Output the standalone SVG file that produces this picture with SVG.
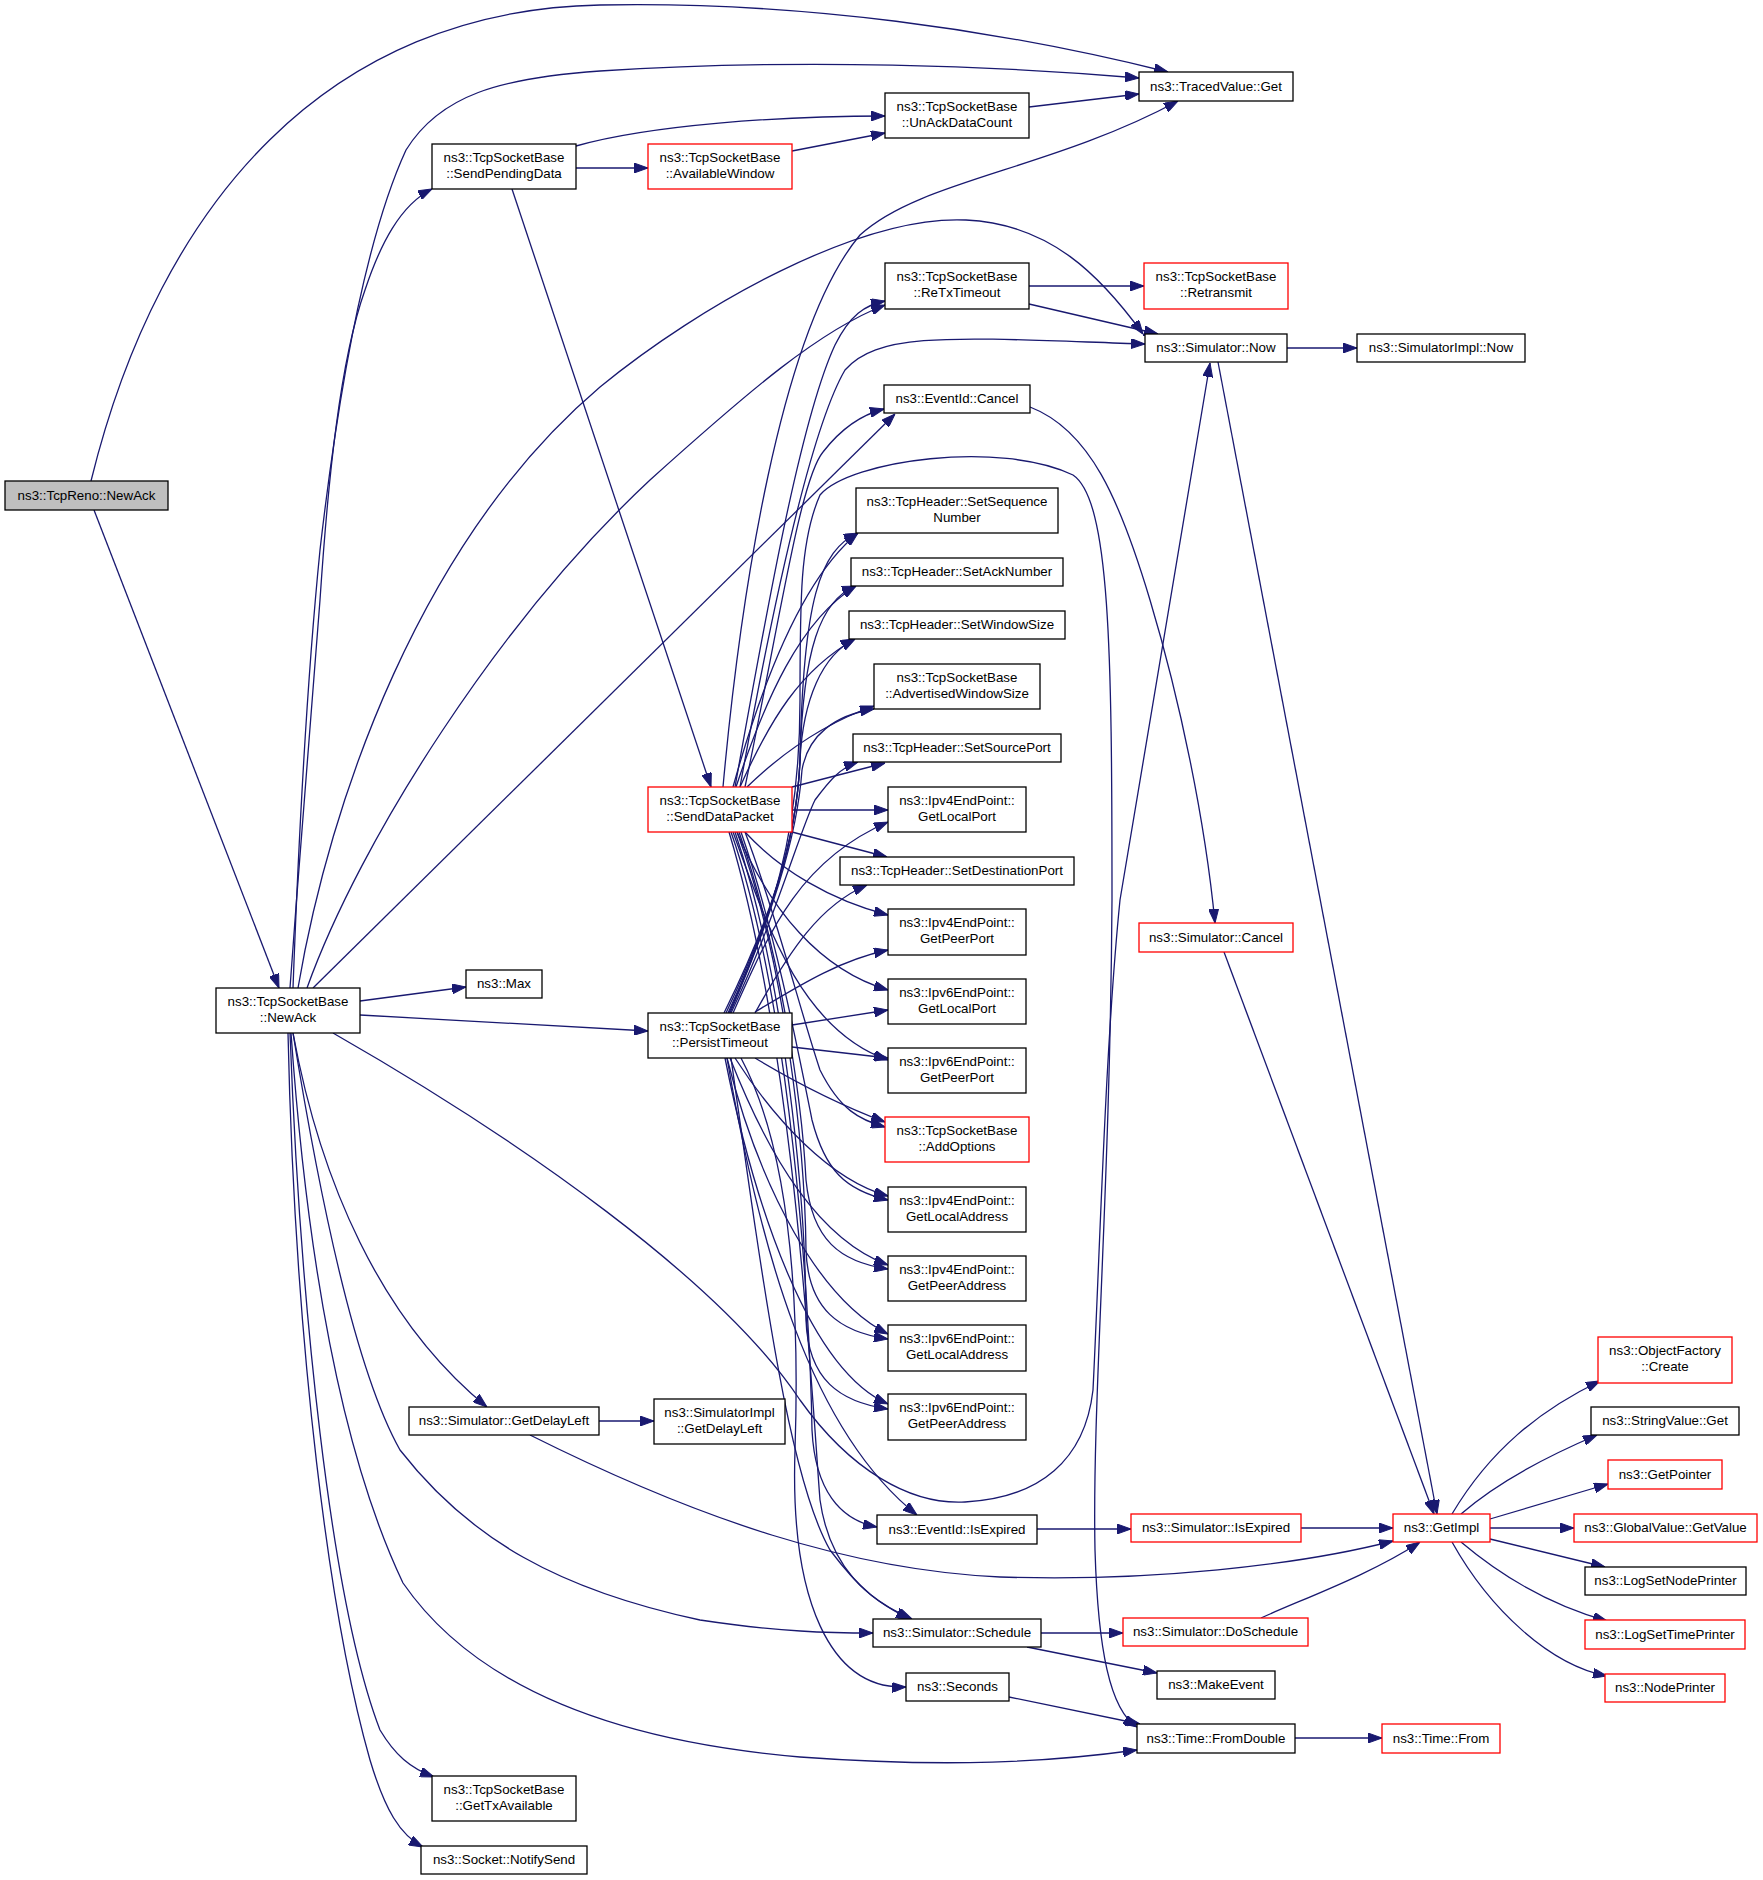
<svg xmlns="http://www.w3.org/2000/svg" width="1763" height="1880" viewBox="0 0 1763 1880">
<style>
.n rect{fill:#fff;stroke:#000;stroke-width:1.3}
.n.r rect{stroke:#f00}
.n.root rect{fill:#bfbfbf}
text{font-family:"Liberation Sans",Arial,Helvetica,sans-serif;font-size:13.33px;text-anchor:middle;fill:#000}
#edges path{fill:none;stroke:#191970;stroke-width:1.3;marker-end:url(#a)}
</style>
<defs>
<marker id="a" markerUnits="userSpaceOnUse" markerWidth="14" markerHeight="10" refX="14" refY="5" orient="auto" viewBox="0 0 14 10">
<path d="M0,0 L14,5 L0,10 z" fill="#191970" stroke="#191970" stroke-width="1"/>
</marker>
</defs>
<rect width="1763" height="1880" fill="#fff"/>
<g id="edges">
<path d="M91,481 C160,200 330,10 600,5 C800,1 1000,30 1168,72"/>
<path d="M94,510 L279,988"/>
<path d="M290,988 C300,850 312,700 320,600 C328,480 340,360 365,290 C380,245 400,205 432,189"/>
<path d="M293,988 C300,800 310,650 320,550 C335,420 360,250 406,150 C440,95 500,78 600,71 C800,58 1000,66 1139,78"/>
<path d="M576,146 C650,125 780,116 885,116"/>
<path d="M576,168 L648,168"/>
<path d="M792,151 L885,133"/>
<path d="M1029,107 L1139,94"/>
<path d="M512,189 L711,787"/>
<path d="M723,787 C740,600 780,330 860,235 C920,180 1050,170 1178,101"/>
<path d="M735,787 C765,620 800,420 835,345 C850,315 865,305 885,301"/>
<path d="M740,787 C770,620 810,430 845,370 C880,330 960,338 1145,344"/>
<path d="M745,787 C780,620 800,480 823,452 C840,430 860,415 884,409"/>
<path d="M1029,286 L1144,286"/>
<path d="M1029,304 L1158,334"/>
<path d="M1287,348 L1357,348"/>
<path d="M298,988 C330,800 420,540 600,387 C700,305 860,215 966,220 C1050,224 1100,275 1143,334"/>
<path d="M307,988 C360,840 500,620 650,480 C750,390 820,330 885,305"/>
<path d="M313,988 L895,414"/>
<path d="M360,1001 L466,987"/>
<path d="M360,1015 L648,1031"/>
<path d="M333,1033 C520,1140 720,1280 800,1400 C850,1470 910,1505 965,1502 C1040,1498 1085,1460 1093,1390 C1100,1250 1105,1050 1120,900 L1210,363"/>
<path d="M293,1033 C320,1180 380,1320 487,1407"/>
<path d="M293,1033 C320,1200 355,1370 400,1450 C470,1540 560,1590 700,1620 C780,1632 830,1633 873,1633"/>
<path d="M291,1033 C305,1230 335,1440 403,1583 C470,1680 600,1740 800,1757 C950,1768 1050,1762 1137,1750"/>
<path d="M290,1033 C300,1300 330,1600 380,1730 C395,1755 410,1768 434,1777"/>
<path d="M288,1033 C295,1350 330,1620 370,1760 C385,1810 400,1835 423,1847"/>
<path d="M599,1421 L654,1421"/>
<path d="M530,1435 C700,1520 850,1570 1000,1577 C1150,1582 1300,1565 1393,1541"/>
<path d="M733,787 C760,690 800,580 858,533"/>
<path d="M736,787 C765,700 800,620 856,586"/>
<path d="M740,787 C770,720 800,670 855,639"/>
<path d="M747,787 C780,755 820,725 874,706"/>
<path d="M792,787 L885,763"/>
<path d="M792,810 L888,810"/>
<path d="M792,832 L887,857"/>
<path d="M745,832 C780,870 830,900 888,915"/>
<path d="M737,832 C770,910 820,970 888,990"/>
<path d="M733,832 C765,920 800,1030 888,1060"/>
<path d="M745,832 C775,910 800,1010 820,1070 C840,1110 860,1120 885,1127"/>
<path d="M741,832 C775,930 800,1060 812,1120 C825,1170 845,1190 888,1200"/>
<path d="M739,832 C780,950 802,1100 806,1180 C812,1240 840,1262 888,1269"/>
<path d="M737,832 C785,960 805,1150 806,1250 C808,1310 840,1332 888,1339"/>
<path d="M735,832 C785,980 806,1200 806,1320 C808,1380 840,1402 888,1409"/>
<path d="M731,832 C790,1000 810,1300 812,1430 C815,1490 840,1520 877,1527"/>
<path d="M729,832 C795,1050 812,1400 820,1500 C830,1570 870,1600 910,1619"/>
<path d="M724,1013 C770,920 797,840 800,760 C803,600 820,550 858,533"/>
<path d="M726,1013 C770,920 797,840 800,760 C803,650 820,600 856,586"/>
<path d="M728,1013 C770,920 797,840 800,760 C803,700 822,655 855,639"/>
<path d="M730,1013 C770,920 797,840 802,770 C808,735 835,715 874,709"/>
<path d="M731,1013 C775,920 800,830 815,800 C830,780 840,768 858,762"/>
<path d="M733,1013 C770,930 800,860 888,822"/>
<path d="M755,1013 C790,950 820,905 867,885"/>
<path d="M755,1012 C800,985 840,960 888,950"/>
<path d="M792,1025 L888,1010"/>
<path d="M792,1047 L888,1058"/>
<path d="M755,1058 C800,1085 840,1105 885,1122"/>
<path d="M735,1058 C775,1120 830,1180 888,1196"/>
<path d="M730,1058 C770,1160 820,1240 888,1265"/>
<path d="M727,1058 C760,1190 820,1300 888,1334"/>
<path d="M725,1058 C755,1210 810,1370 888,1404"/>
<path d="M727,1058 C760,1250 810,1430 917,1515"/>
<path d="M731,1058 C765,1300 790,1480 830,1550 C860,1590 880,1605 912,1619"/>
<path d="M741,1058 C790,1150 800,1300 795,1450 C790,1600 830,1690 906,1687"/>
<path d="M729,1013 C770,920 800,840 800,700 C800,600 800,540 820,495 C850,460 1000,440 1073,475 C1110,500 1112,650 1112,900 C1110,1200 1092,1400 1095,1550 C1098,1650 1110,1710 1137,1727"/>
<path d="M1030,407 C1090,430 1120,500 1150,600 C1180,700 1205,820 1215,923"/>
<path d="M1224,952 L1434,1514"/>
<path d="M1218,362 L1437,1514"/>
<path d="M1037,1529 L1131,1529"/>
<path d="M1301,1528 L1393,1528"/>
<path d="M1041,1633 L1123,1633"/>
<path d="M1027,1647 L1157,1673"/>
<path d="M1261,1618 C1300,1600 1370,1575 1420,1542"/>
<path d="M1009,1697 L1140,1724"/>
<path d="M1295,1738 L1382,1738"/>
<path d="M1452,1514 C1490,1450 1540,1410 1600,1381"/>
<path d="M1461,1514 C1500,1480 1550,1455 1597,1435"/>
<path d="M1490,1519 L1608,1484"/>
<path d="M1490,1528 L1574,1528"/>
<path d="M1490,1539 L1605,1567"/>
<path d="M1461,1542 C1500,1575 1550,1605 1607,1621"/>
<path d="M1452,1542 C1490,1610 1550,1665 1607,1676"/>
</g>
<g id="n_tcpreno_newack" class="n root"><rect x="5" y="481" width="163" height="29"/><text x="86.5" y="500">ns3::TcpReno::NewAck</text></g>
<g id="n_newack" class="n"><rect x="216" y="988" width="144" height="45"/><text x="288" y="1005.5">ns3::TcpSocketBase</text><text x="288" y="1022">::NewAck</text></g>
<g id="n_sendpending" class="n"><rect x="432" y="144" width="144" height="45"/><text x="504" y="161.5">ns3::TcpSocketBase</text><text x="504" y="178">::SendPendingData</text></g>
<g id="n_availwin" class="n r"><rect x="648" y="144" width="144" height="45"/><text x="720" y="161.5">ns3::TcpSocketBase</text><text x="720" y="178">::AvailableWindow</text></g>
<g id="n_unack" class="n"><rect x="885" y="93" width="144" height="45"/><text x="957" y="110.5">ns3::TcpSocketBase</text><text x="957" y="127">::UnAckDataCount</text></g>
<g id="n_tracedget" class="n"><rect x="1139" y="72" width="154" height="29"/><text x="1216" y="91">ns3::TracedValue::Get</text></g>
<g id="n_retx" class="n"><rect x="885" y="263" width="144" height="46"/><text x="957" y="280.5">ns3::TcpSocketBase</text><text x="957" y="297">::ReTxTimeout</text></g>
<g id="n_retransmit" class="n r"><rect x="1144" y="263" width="144" height="46"/><text x="1216" y="280.5">ns3::TcpSocketBase</text><text x="1216" y="297">::Retransmit</text></g>
<g id="n_simnow" class="n"><rect x="1145" y="334" width="142" height="28"/><text x="1216" y="352">ns3::Simulator::Now</text></g>
<g id="n_implnow" class="n"><rect x="1357" y="334" width="168" height="28"/><text x="1441" y="352">ns3::SimulatorImpl::Now</text></g>
<g id="n_evcancel" class="n"><rect x="884" y="385" width="146" height="28"/><text x="957" y="403">ns3::EventId::Cancel</text></g>
<g id="n_setseq" class="n"><rect x="856" y="488" width="202" height="45"/><text x="957" y="505.5">ns3::TcpHeader::SetSequence</text><text x="957" y="522">Number</text></g>
<g id="n_setack" class="n"><rect x="851" y="558" width="212" height="28"/><text x="957" y="576">ns3::TcpHeader::SetAckNumber</text></g>
<g id="n_setwin" class="n"><rect x="849" y="611" width="216" height="28"/><text x="957" y="629">ns3::TcpHeader::SetWindowSize</text></g>
<g id="n_advwin" class="n"><rect x="874" y="664" width="166" height="45"/><text x="957" y="681.5">ns3::TcpSocketBase</text><text x="957" y="698">::AdvertisedWindowSize</text></g>
<g id="n_setsrc" class="n"><rect x="853" y="734" width="208" height="28"/><text x="957" y="752">ns3::TcpHeader::SetSourcePort</text></g>
<g id="n_v4lport" class="n"><rect x="888" y="787" width="138" height="45"/><text x="957" y="804.5">ns3::Ipv4EndPoint::</text><text x="957" y="821">GetLocalPort</text></g>
<g id="n_setdst" class="n"><rect x="840" y="857" width="234" height="28"/><text x="957" y="875">ns3::TcpHeader::SetDestinationPort</text></g>
<g id="n_v4pport" class="n"><rect x="888" y="909" width="138" height="46"/><text x="957" y="926.5">ns3::Ipv4EndPoint::</text><text x="957" y="943">GetPeerPort</text></g>
<g id="n_v6lport" class="n"><rect x="888" y="979" width="138" height="45"/><text x="957" y="996.5">ns3::Ipv6EndPoint::</text><text x="957" y="1013">GetLocalPort</text></g>
<g id="n_v6pport" class="n"><rect x="888" y="1048" width="138" height="45"/><text x="957" y="1065.5">ns3::Ipv6EndPoint::</text><text x="957" y="1082">GetPeerPort</text></g>
<g id="n_addopt" class="n r"><rect x="885" y="1117" width="144" height="45"/><text x="957" y="1134.5">ns3::TcpSocketBase</text><text x="957" y="1151">::AddOptions</text></g>
<g id="n_v4laddr" class="n"><rect x="888" y="1187" width="138" height="45"/><text x="957" y="1204.5">ns3::Ipv4EndPoint::</text><text x="957" y="1221">GetLocalAddress</text></g>
<g id="n_v4paddr" class="n"><rect x="888" y="1256" width="138" height="45"/><text x="957" y="1273.5">ns3::Ipv4EndPoint::</text><text x="957" y="1290">GetPeerAddress</text></g>
<g id="n_v6laddr" class="n"><rect x="888" y="1325" width="138" height="46"/><text x="957" y="1342.5">ns3::Ipv6EndPoint::</text><text x="957" y="1359">GetLocalAddress</text></g>
<g id="n_v6paddr" class="n"><rect x="888" y="1394" width="138" height="46"/><text x="957" y="1411.5">ns3::Ipv6EndPoint::</text><text x="957" y="1428">GetPeerAddress</text></g>
<g id="n_senddata" class="n r"><rect x="648" y="787" width="144" height="45"/><text x="720" y="804.5">ns3::TcpSocketBase</text><text x="720" y="821">::SendDataPacket</text></g>
<g id="n_max" class="n"><rect x="466" y="970" width="76" height="28"/><text x="504" y="988">ns3::Max</text></g>
<g id="n_persist" class="n"><rect x="648" y="1013" width="144" height="45"/><text x="720" y="1030.5">ns3::TcpSocketBase</text><text x="720" y="1047">::PersistTimeout</text></g>
<g id="n_simcancel" class="n r"><rect x="1139" y="923" width="154" height="29"/><text x="1216" y="941.5">ns3::Simulator::Cancel</text></g>
<g id="n_getdelay" class="n"><rect x="409" y="1407" width="190" height="28"/><text x="504" y="1425">ns3::Simulator::GetDelayLeft</text></g>
<g id="n_impldelay" class="n"><rect x="654" y="1399" width="131" height="45"/><text x="719.5" y="1416.5">ns3::SimulatorImpl</text><text x="719.5" y="1433">::GetDelayLeft</text></g>
<g id="n_evexpired" class="n"><rect x="877" y="1515" width="160" height="29"/><text x="957" y="1533.5">ns3::EventId::IsExpired</text></g>
<g id="n_simexpired" class="n r"><rect x="1131" y="1514" width="170" height="28"/><text x="1216" y="1532">ns3::Simulator::IsExpired</text></g>
<g id="n_getimpl" class="n r"><rect x="1393" y="1514" width="97" height="28"/><text x="1441.5" y="1532">ns3::GetImpl</text></g>
<g id="n_schedule" class="n"><rect x="873" y="1619" width="168" height="28"/><text x="957" y="1637">ns3::Simulator::Schedule</text></g>
<g id="n_doschedule" class="n r"><rect x="1123" y="1618" width="185" height="28"/><text x="1215.5" y="1636">ns3::Simulator::DoSchedule</text></g>
<g id="n_makeevent" class="n"><rect x="1157" y="1671" width="118" height="28"/><text x="1216" y="1689">ns3::MakeEvent</text></g>
<g id="n_seconds" class="n"><rect x="906" y="1673" width="103" height="28"/><text x="957.5" y="1691">ns3::Seconds</text></g>
<g id="n_fromdouble" class="n"><rect x="1137" y="1724" width="158" height="29"/><text x="1216" y="1742.5">ns3::Time::FromDouble</text></g>
<g id="n_timefrom" class="n r"><rect x="1382" y="1724" width="118" height="29"/><text x="1441" y="1742.5">ns3::Time::From</text></g>
<g id="n_gettx" class="n"><rect x="432" y="1776" width="144" height="45"/><text x="504" y="1793.5">ns3::TcpSocketBase</text><text x="504" y="1810">::GetTxAvailable</text></g>
<g id="n_notifysend" class="n"><rect x="421" y="1846" width="166" height="28"/><text x="504" y="1864">ns3::Socket::NotifySend</text></g>
<g id="n_objcreate" class="n r"><rect x="1598" y="1337" width="134" height="46"/><text x="1665" y="1354.5">ns3::ObjectFactory</text><text x="1665" y="1371">::Create</text></g>
<g id="n_stringget" class="n"><rect x="1591" y="1407" width="148" height="28"/><text x="1665" y="1425">ns3::StringValue::Get</text></g>
<g id="n_getpointer" class="n r"><rect x="1608" y="1460" width="114" height="29"/><text x="1665" y="1478.5">ns3::GetPointer</text></g>
<g id="n_globalvalue" class="n r"><rect x="1574" y="1514" width="183" height="28"/><text x="1665.5" y="1532">ns3::GlobalValue::GetValue</text></g>
<g id="n_lognode" class="n"><rect x="1585" y="1567" width="161" height="28"/><text x="1665.5" y="1585">ns3::LogSetNodePrinter</text></g>
<g id="n_logtime" class="n r"><rect x="1585" y="1620" width="160" height="29"/><text x="1665" y="1638.5">ns3::LogSetTimePrinter</text></g>
<g id="n_nodeprinter" class="n r"><rect x="1605" y="1674" width="120" height="28"/><text x="1665" y="1692">ns3::NodePrinter</text></g>
</svg>
